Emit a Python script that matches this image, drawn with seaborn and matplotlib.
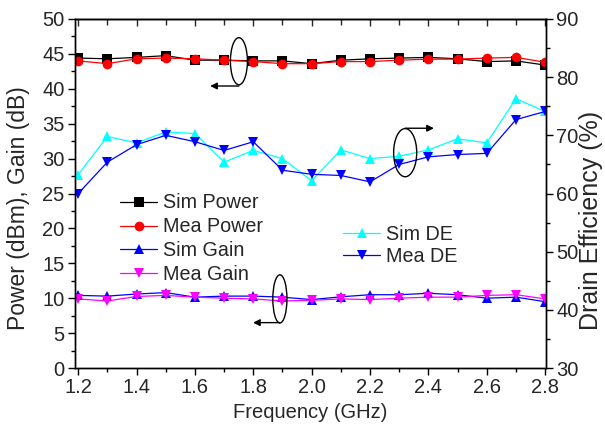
import numpy as np
import pandas as pd
import matplotlib
matplotlib.use("Agg")
import matplotlib.pyplot as plt
from matplotlib.patches import Ellipse
from matplotlib.ticker import MultipleLocator
import seaborn as sns

freq = [1.2, 1.3, 1.4, 1.5, 1.6, 1.7, 1.8, 1.9, 2.0, 2.1, 2.2, 2.3, 2.4, 2.5, 2.6, 2.7, 2.8]
sim_power = [44.4, 44.3, 44.5, 44.75, 44.1, 44.1, 44.0, 44.0, 43.6, 44.1, 44.3, 44.4, 44.5, 44.3, 43.9, 44.0, 43.4]
mea_power = [44.0, 43.6, 44.3, 44.4, 44.3, 44.1, 43.9, 43.6, 43.6, 43.9, 43.9, 44.1, 44.25, 44.25, 44.4, 44.5, 43.8]
sim_gain = [10.4, 10.3, 10.6, 10.8, 10.15, 10.3, 10.3, 10.15, 9.8, 10.2, 10.5, 10.5, 10.7, 10.5, 10.0, 10.15, 9.5]
mea_gain = [9.9, 9.6, 10.25, 10.4, 10.15, 10.0, 9.9, 9.6, 9.7, 9.9, 9.8, 10.0, 10.15, 10.15, 10.4, 10.5, 9.9]
sim_de = [63.25, 69.8, 68.7, 70.6, 70.3, 65.4, 67.4, 66.0, 62.2, 67.5, 66.0, 66.4, 67.5, 69.4, 68.7, 76.3, 74.1]
mea_de = [60.0, 65.4, 68.4, 70.0, 68.9, 67.4, 68.9, 64.0, 63.3, 63.1, 62.0, 65.0, 66.3, 66.7, 66.9, 72.7, 74.1]

left_labels = ["Sim Power", "Mea Power", "Sim Gain", "Mea Gain"]
right_labels = ["Sim DE", "Mea DE"]

sns.set_style("white")
plt.rcParams["font.family"] = ["Liberation Sans", "DejaVu Sans"]
plt.rcParams["font.size"] = 14

TICK_FS = 14.5
XLABEL_FS = 14.5
YLABEL_FS = 16.5
Y2LABEL_FS = 18
LEG_FS = 14.2

fig = plt.figure(figsize=(6.05, 4.32), dpi=100)
ax = fig.add_axes([75 / 605, 1 - 368 / 432, 471 / 605, 349 / 432])
ax2 = ax.twinx()

ms = 7
lw = 0.9
left_series = [
    (sim_power, "black", "s", left_labels[0]),
    (mea_power, "#FF0000", "o", left_labels[1]),
    (sim_gain, "#0000FF", "^", left_labels[2]),
    (mea_gain, "#FF00FF", "v", left_labels[3]),
]
for vals, col, mk, lab in left_series:
    sns.lineplot(x=freq, y=vals, ax=ax, color=col, marker=mk, markersize=ms,
                 markeredgewidth=0, linewidth=lw, label=lab)

right_series = [
    (sim_de, "#00FFFF", "^", right_labels[0]),
    (mea_de, "#0000FF", "v", right_labels[1]),
]
for vals, col, mk, lab in right_series:
    sns.lineplot(x=freq, y=vals, ax=ax2, color=col, marker=mk, markersize=ms,
                 markeredgewidth=0, linewidth=lw, label=lab)

ax.set_xlim(1.189, 2.803)
ax.set_ylim(0, 50)
ax2.set_ylim(30, 90)

ax.xaxis.set_major_locator(MultipleLocator(0.2))
ax.xaxis.set_minor_locator(MultipleLocator(0.1))
ax.yaxis.set_major_locator(MultipleLocator(5))
ax.yaxis.set_minor_locator(MultipleLocator(2.5))
ax2.yaxis.set_major_locator(MultipleLocator(10))
ax2.yaxis.set_minor_locator(MultipleLocator(5))
ax.xaxis.set_major_formatter(matplotlib.ticker.FormatStrFormatter("%.1f"))

for a in (ax, ax2):
    for s in a.spines.values():
        s.set_color("black")
        s.set_linewidth(1.0)

ax.tick_params(axis="both", which="major", direction="out", length=5, width=1, labelsize=TICK_FS, color="black", pad=2.5)
ax.tick_params(axis="both", which="minor", direction="out", length=3, width=1, color="black")
ax.tick_params(axis="y", which="both", left=True, right=False)
ax.tick_params(axis="x", which="both", bottom=True, top=False)
ax2.tick_params(axis="y", which="major", direction="out", length=5, width=1, labelsize=TICK_FS, color="black", right=True, pad=2.5)
ax2.tick_params(axis="y", which="minor", direction="out", length=3, width=1, color="black", right=True)

top = ax.secondary_xaxis("top")
top.xaxis.set_major_locator(MultipleLocator(0.2))
top.xaxis.set_minor_locator(MultipleLocator(0.1))
top.tick_params(axis="x", which="major", direction="in", length=5, width=1, labeltop=False)
top.tick_params(axis="x", which="minor", direction="in", length=4, width=1)
top.spines["top"].set_linewidth(1.0)

ax.set_xlabel("Frequency (GHz)", fontsize=XLABEL_FS, labelpad=4)
ax.set_ylabel("Power (dBm), Gain (dB)", fontsize=YLABEL_FS, labelpad=1)
ax.yaxis.set_label_coords(-0.095, 0.458)
ax2.set_ylabel("Drain Efficiency (%)", fontsize=Y2LABEL_FS, labelpad=6)
ax2.yaxis.set_label_coords(1.070, 0.424)

leg1 = ax.legend(loc="upper left", bbox_to_anchor=(0.0955, 0.50), frameon=False,
                 fontsize=LEG_FS, handlelength=1.9, handletextpad=0.3, labelspacing=0.25,
                 borderpad=0, borderaxespad=0)
leg2 = ax2.legend(loc="upper left", bbox_to_anchor=(0.569, 0.409), frameon=False,
                  fontsize=LEG_FS, handlelength=1.9, handletextpad=0.3, labelspacing=0.13,
                  borderpad=0, borderaxespad=0)

# annotation ellipses with arrows (axes-fraction coordinates)
ann = [
    ((0.348, 0.879), 0.036, 0.135, (0.348, 0.808), (0.287, 0.808)),
    ((0.701, 0.617), 0.049, 0.138, (0.701, 0.687), (0.762, 0.687)),
    ((0.435, 0.198), 0.030, 0.138, (0.435, 0.130), (0.378, 0.130)),
]
for c, w, h, start, end in ann:
    ax2.add_patch(Ellipse(c, w, h, transform=ax2.transAxes, fill=False,
                          edgecolor="black", linewidth=1.0, zorder=5))
    ax2.annotate("", xy=end, xytext=start, xycoords="axes fraction",
                 textcoords="axes fraction",
                 arrowprops=dict(arrowstyle="-|>", color="black", lw=1.0,
                                 mutation_scale=10, shrinkA=0, shrinkB=0))

fig.savefig("out.png", dpi=100)
